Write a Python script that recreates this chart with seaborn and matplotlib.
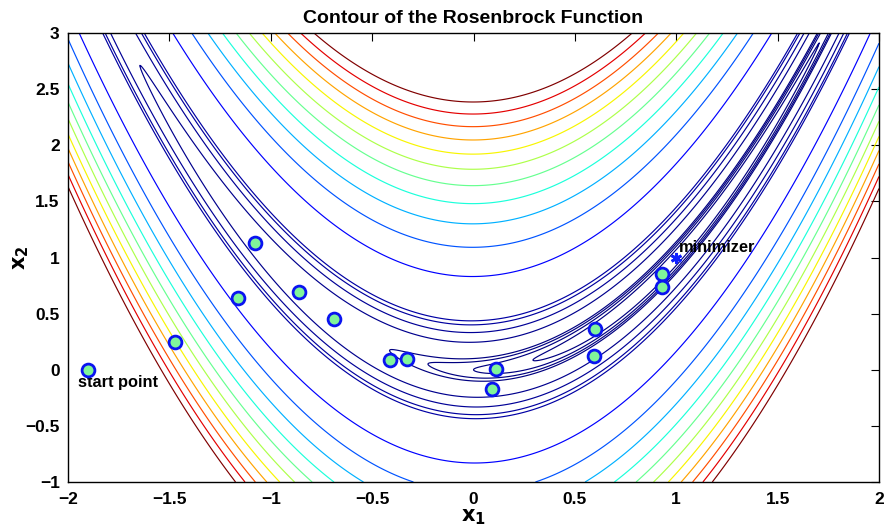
import numpy as np
import pandas as pd
import matplotlib
matplotlib.use("Agg")
import matplotlib.pyplot as plt
import seaborn as sns
from matplotlib.colors import Normalize

# --- data -------------------------------------------------------------
contour_levels = [0.5, 1, 1.5, 2, 7, 12, 17, 20, 70, 120, 170, 220, 270,
                  320, 370, 420, 470, 520, 570]
iter_x1 = [-1.90, -1.47, -1.08, -1.16, -0.86, -0.69, -0.41, -0.33,
           0.11, 0.09, 0.60, 0.595, 0.93, 0.93]
iter_x2 = [0.00, 0.25, 1.13, 0.64, 0.69, 0.45, 0.09, 0.10,
           0.01, -0.17, 0.36, 0.12, 0.85, 0.74]
minimizer_x1 = [1.0]
minimizer_x2 = [1.0]
x_ticks = [-2, -1.5, -1, -0.5, 0, 0.5, 1, 1.5, 2]
y_ticks = [-1, -0.5, 0, 0.5, 1, 1.5, 2, 2.5, 3]

sns.set_style("white")
plt.rcParams['font.family'] = ['Liberation Sans', 'DejaVu Sans']
plt.rcParams['font.weight'] = 'bold'
for k in ['text.color', 'axes.labelcolor', 'xtick.color', 'ytick.color']:
    plt.rcParams[k] = 'black'

fig = plt.figure(figsize=(8.89, 5.32), dpi=100)
ax = fig.add_axes([68/889, 1-482/532, (879-68)/889, (482-33)/532])

g1 = np.linspace(-2, 2, 801)
g2 = np.linspace(-1, 3, 801)
X1, X2 = np.meshgrid(g1, g2)
Z = 100*(X2 - X1**2)**2 + (1 - X1)**2

ax.contour(X1, X2, Z, levels=contour_levels, cmap='jet',
           norm=Normalize(vmin=0, vmax=570), linewidths=0.85)

pts = pd.DataFrame({'x1': iter_x1, 'x2': iter_x2})
sns.scatterplot(data=pts, x='x1', y='x2', ax=ax, s=85, color='#80f59a',
                edgecolor='#0a14f0', linewidth=2.0, zorder=5)
ax.plot(minimizer_x1, minimizer_x2, marker=(6, 2, 0), color='#1020ff',
        markersize=8, markeredgewidth=2.0, linestyle='none', zorder=6)

ax.text(-1.95, -0.05, 'start point', fontsize=11.8, fontweight='bold',
        ha='left', va='top')
ax.text(1.015, 1.025, 'minimizer', fontsize=11.8, fontweight='bold',
        ha='left', va='bottom')

ax.set_xlim(-2, 2)
ax.set_ylim(-1, 3)
ax.set_xticks(x_ticks)
ax.set_yticks(y_ticks)
ax.set_xticklabels([('%g' % v).replace('-', '\u2212') for v in x_ticks])
ax.set_yticklabels([('%g' % v).replace('-', '\u2212') for v in y_ticks])
ax.tick_params(direction='in', length=6, width=0.8, top=True, right=True,
               labelsize=12.5)
ax.tick_params(axis='x', pad=7)
ax.tick_params(axis='y', pad=6)
for lab in ax.get_xticklabels() + ax.get_yticklabels():
    lab.set_fontweight('bold')
for sp in ax.spines.values():
    sp.set_visible(True)
    sp.set_linewidth(1.0)
    sp.set_color('black')

ax.set_xlabel(r'$\mathbf{x_1}$', fontsize=15)
ax.set_ylabel(r'$\mathbf{x_2}$', fontsize=15)
ax.xaxis.set_label_coords(0.5, -0.056)
ax.yaxis.set_label_coords(-0.046, 0.5)
ax.set_title('Contour of the Rosenbrock Function', fontsize=14,
             fontweight='bold', pad=7)

fig.savefig('out.png', dpi=100)
